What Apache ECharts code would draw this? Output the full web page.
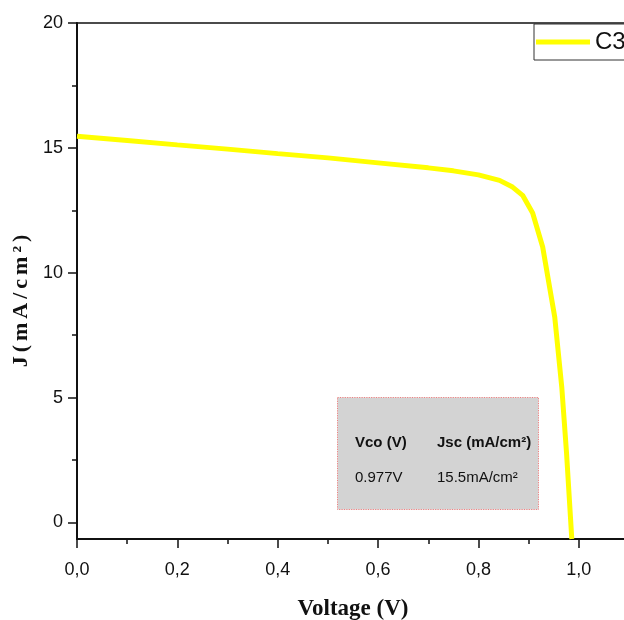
<!DOCTYPE html>
<html>
<head>
<meta charset="utf-8">
<script src="https://cdn.jsdelivr.net/npm/echarts@6/dist/echarts.min.js"></script>
<style>
  html, body { margin: 0; padding: 0; background: #fff; }
  #chart { width: 624px; height: 620px; }
</style>
</head>
<body>
<div id="chart"></div>
<script>
// J-V curve of cell C3
const seriesName = 'C3';
const voltage = [0, 0.1, 0.2, 0.3, 0.4, 0.5, 0.6, 0.7, 0.75, 0.8, 0.842, 0.868, 0.888, 0.908, 0.928, 0.952, 0.966, 0.9755, 0.986];
const currentDensity = [15.47, 15.3, 15.12, 14.95, 14.77, 14.6, 14.4, 14.2, 14.08, 13.92, 13.7, 13.43, 13.1, 12.39, 11.03, 8.23, 5.43, 2.79, -0.66];

const xTicks = [0, 0.2, 0.4, 0.6, 0.8, 1.0];
const yLabelValues = [0, 5, 10, 15, 20];
const yMinorValues = [2.5, 7.5, 12.5, 17.5];

const infoHeaders = ['Vco (V)', 'Jsc (mA/cm²)'];
const infoValues = ['0.977V', '15.5mA/cm²'];

const xTitle = 'Voltage (V)';
const yTitleChars = ['J', '(', 'm', 'A', '/', 'c', 'm', '²', ')'];

const points = voltage.map((v, i) => [v, currentDensity[i]]);

const chart = echarts.init(document.getElementById('chart'), null, { renderer: 'canvas' });

const sans = 'Liberation Sans, Arial, sans-serif';
const tickFont = { fontFamily: sans, fontSize: 18, color: '#111' };
const serifBold = { fontFamily: 'Liberation Serif, Times New Roman, serif', fontWeight: 'bold', color: '#111' };
const axisLineStyle = { color: '#111', width: 2 };
const tickLine = { color: '#111', width: 1.5 };

chart.setOption({
  animation: false,
  backgroundColor: '#fff',
  grid: {
    left: 77, top: 23, width: 552, height: 516,
    outerBoundsMode: 'none',
    containLabel: false,
    show: true, borderColor: '#111', borderWidth: 1.5, backgroundColor: 'transparent'
  },
  legend: {
    data: [{ name: seriesName, icon: 'rect' }],
    left: 534, top: 24,
    orient: 'horizontal',
    backgroundColor: '#fff',
    borderColor: '#333', borderWidth: 1, borderRadius: 0,
    padding: [6, 60, 6, 2],
    itemWidth: 54, itemHeight: 5,
    itemStyle: { color: '#ffff00' },
    textStyle: { fontFamily: sans, fontSize: 24, color: '#111' }
  },
  xAxis: {
    type: 'value',
    min: 0, max: 1.1, interval: 0.2,
    name: xTitle,
    nameLocation: 'middle',
    nameGap: 59,
    nameTextStyle: Object.assign({ fontSize: 23 }, serifBold),
    axisLine: { show: true, onZero: false, lineStyle: axisLineStyle },
    axisTick: { show: true, inside: false, length: 9, lineStyle: tickLine },
    minorTick: { show: true, splitNumber: 2, length: 5, lineStyle: tickLine },
    splitLine: { show: false },
    axisLabel: Object.assign({
      margin: 22,
      formatter: v => xTicks.some(t => Math.abs(t - v) < 1e-9) ? v.toFixed(1).replace('.', ',') : ''
    }, tickFont)
  },
  yAxis: [
    {
      type: 'value',
      min: -0.66, max: 20,
      name: yTitleChars.map(c => '{t|' + c + '}').join(''),
      nameLocation: 'middle',
      nameGap: 35,
      nameRotate: 90,
      nameTextStyle: {
        padding: [0, 40, 0, 0],
        rich: { t: Object.assign({ fontSize: 22, padding: [0, 2] }, serifBold) }
      },
      axisLine: { show: true, onZero: false, lineStyle: axisLineStyle },
      axisTick: { show: true, inside: false, length: 9, customValues: yLabelValues, lineStyle: tickLine },
      splitLine: { show: false },
      axisLabel: Object.assign({ margin: 14, customValues: yLabelValues, formatter: v => String(v) }, tickFont)
    },
    {
      type: 'value',
      min: -0.66, max: 20,
      position: 'left',
      axisLine: { show: false },
      axisTick: { show: true, inside: false, length: 5, customValues: yMinorValues, lineStyle: tickLine },
      axisLabel: { show: false },
      splitLine: { show: false }
    }
  ],
  series: [{
    name: seriesName,
    type: 'line',
    data: points,
    yAxisIndex: 0,
    symbol: 'none',
    showSymbol: false,
    smooth: false,
    clip: true,
    lineStyle: { color: '#ffff00', width: 5 },
    itemStyle: { color: '#ffff00' },
    z: 3
  }],
  graphic: [
    {
      type: 'rect',
      left: 337, top: 397,
      shape: { width: 201, height: 112 },
      style: { fill: '#d3d3d3', stroke: '#ee8080', lineWidth: 1, lineDash: [1.2, 1.2] },
      z: 10
    },
    {
      type: 'text', left: 355, top: 435, z: 11,
      style: { text: infoHeaders[0], font: 'bold 15px ' + sans, fill: '#111' }
    },
    {
      type: 'text', left: 437, top: 435, z: 11,
      style: { text: infoHeaders[1], font: 'bold 15px ' + sans, fill: '#111' }
    },
    {
      type: 'text', left: 355, top: 470, z: 11,
      style: { text: infoValues[0], font: '15px ' + sans, fill: '#111' }
    },
    {
      type: 'text', left: 437, top: 470, z: 11,
      style: { text: infoValues[1], font: '15px ' + sans, fill: '#111' }
    }
  ]
});
</script>
</body>
</html>
